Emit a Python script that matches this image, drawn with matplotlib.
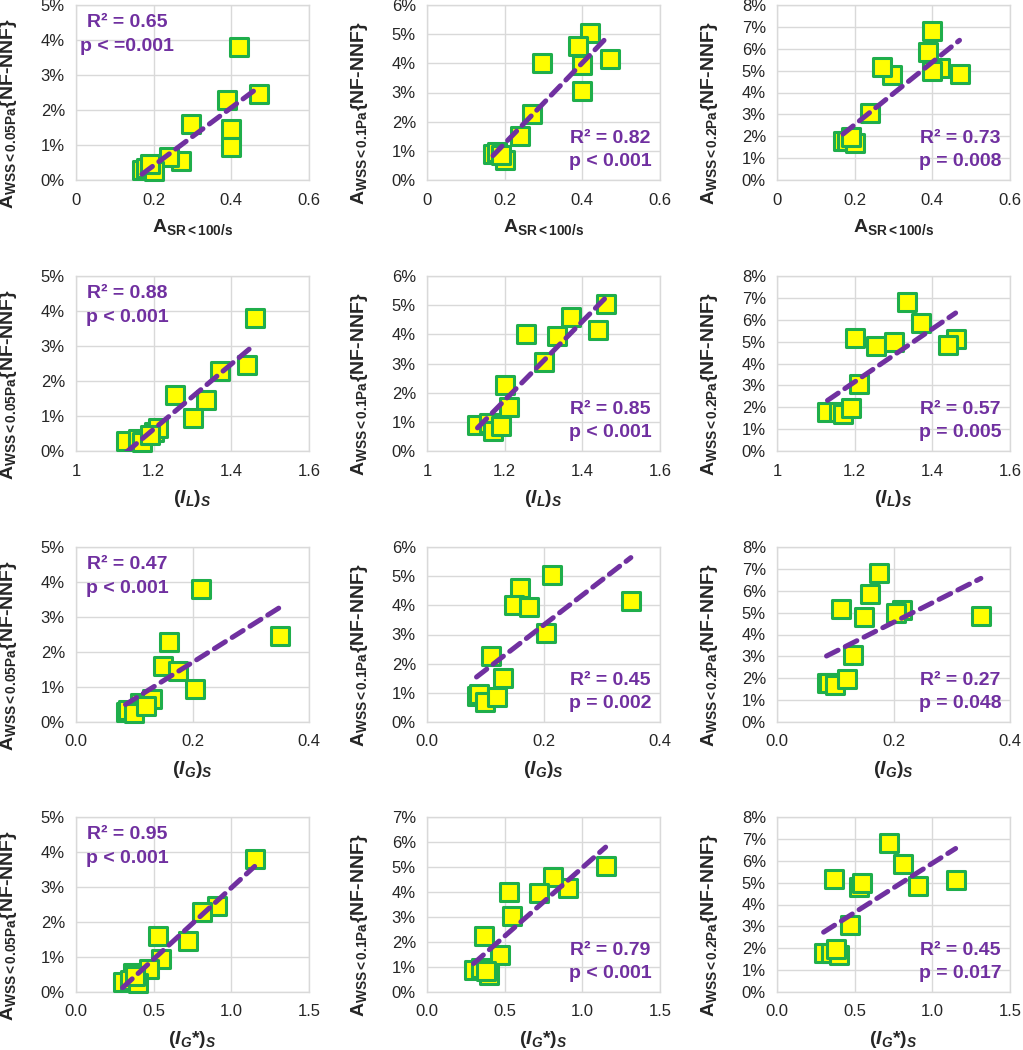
import numpy as np
import matplotlib
matplotlib.use('Agg')
import matplotlib.pyplot as plt
from matplotlib.ticker import FixedLocator, FixedFormatter

plt.rcParams['font.family'] = ['Liberation Sans', 'DejaVu Sans']
plt.rcParams['mathtext.fontset'] = 'custom'
plt.rcParams['mathtext.rm'] = 'Liberation Sans'
plt.rcParams['mathtext.bf'] = 'Liberation Sans:bold'
plt.rcParams['mathtext.it'] = 'Liberation Sans:italic'
plt.rcParams['mathtext.bfit'] = 'Liberation Sans:italic:bold'

# ---- data: one entry per subject (S1..S12) ----
a_sr      = [0.42, 0.47, 0.39, 0.295, 0.40, 0.40, 0.27, 0.24, 0.17, 0.18, 0.20, 0.19]
i_l       = [1.46, 1.44, 1.37, 1.255, 1.335, 1.30, 1.20, 1.21, 1.13, 1.16, 1.17, 1.19]
i_g       = [0.215, 0.35, 0.16, 0.15, 0.175, 0.205, 0.11, 0.13, 0.085, 0.09, 0.10, 0.12]
i_g_star  = [1.15, 0.91, 0.81, 0.53, 0.72, 0.55, 0.37, 0.47, 0.30, 0.35, 0.40, 0.38]
a_wss_005 = [3.8, 2.45, 2.3, 1.6, 1.45, 0.95, 0.55, 0.65, 0.30, 0.35, 0.25, 0.45]
a_wss_01  = [5.05, 4.15, 4.6, 4.0, 3.95, 3.05, 2.25, 1.5, 0.90, 0.95, 0.70, 0.85]
a_wss_02  = [5.1, 4.85, 5.85, 4.8, 6.8, 5.0, 5.15, 3.05, 1.80, 1.80, 1.70, 1.95]

x_vars = [a_sr, i_l, i_g, i_g_star]
y_vars = [a_wss_005, a_wss_01, a_wss_02]

x_labels = [r'A$_{\mathbf{SR{<}100/s}}$',
            r'($\mathbfit{I_L}$)$_{\mathbfit{S}}$',
            r'($\mathbfit{I_G}$)$_{\mathbfit{S}}$',
            r'($\mathbfit{I_G}$*)$_{\mathbfit{S}}$']
y_labels = [r'A$_{\mathbf{WSS{<}0.05Pa}}${NF-NNF}',
            r'A$_{\mathbf{WSS{<}0.1Pa}}${NF-NNF}',
            r'A$_{\mathbf{WSS{<}0.2Pa}}${NF-NNF}']

x_ticks = [[0, 0.2, 0.4, 0.6], [1, 1.2, 1.4, 1.6], [0.0, 0.2, 0.4], [0.0, 0.5, 1.0, 1.5]]
x_ticklabels = [['0', '0.2', '0.4', '0.6'], ['1', '1.2', '1.4', '1.6'],
                ['0.0', '0.2', '0.4'], ['0.0', '0.5', '1.0', '1.5']]
y_max = [[5, 6, 8], [5, 6, 8], [5, 6, 8], [5, 7, 8]]

r2_text = [['R² = 0.65', 'R² = 0.82', 'R² = 0.73'],
           ['R² = 0.88', 'R² = 0.85', 'R² = 0.57'],
           ['R² = 0.47', 'R² = 0.45', 'R² = 0.27'],
           ['R² = 0.95', 'R² = 0.79', 'R² = 0.45']]
p_text = [['p < =0.001', 'p < 0.001', 'p = 0.008'],
          ['p < 0.001', 'p < 0.001', 'p = 0.005'],
          ['p < 0.001', 'p = 0.002', 'p = 0.048'],
          ['p < 0.001', 'p < 0.001', 'p = 0.017']]

W, H = 1023, 1050
fig = plt.figure(figsize=(W / 100, H / 100), dpi=100)

col_left = [76, 427, 777]
row_top = [5, 276, 547, 817]
aw, ah = 233, 175

purple = '#7030A0'
green = '#1FAE4B'
yellow = '#FFFF00'
grid_c = '#D9D9D9'
txt_c = '#262626'

for r in range(4):
    for c in range(3):
        left = col_left[c] / W
        bottom = 1 - (row_top[r] + ah) / H
        ax = fig.add_axes([left, bottom, aw / W, ah / H])
        x = np.array(x_vars[r], dtype=float)
        y = np.array(y_vars[c], dtype=float)
        xt = x_ticks[r]
        ax.set_xlim(xt[0], xt[-1])
        ax.set_ylim(0, y_max[r][c])
        ax.xaxis.set_major_locator(FixedLocator(xt))
        ax.xaxis.set_major_formatter(FixedFormatter(x_ticklabels[r]))
        yt = list(range(0, y_max[r][c] + 1))
        ax.yaxis.set_major_locator(FixedLocator(yt))
        ax.yaxis.set_major_formatter(FixedFormatter([f'{v}%' for v in yt]))
        ax.grid(True, color=grid_c, lw=1.0, zorder=0)
        ax.set_axisbelow(True)
        for s in ax.spines.values():
            s.set_color(grid_c)
            s.set_linewidth(1.0)
        ax.tick_params(length=0, labelsize=12, labelcolor=txt_c, pad=8)
        ax.tick_params(axis='x', pad=9)

        # trendline (least squares)
        k, b0 = np.polyfit(x, y, 1)
        xs = np.array([x.min(), x.max()])
        ax.scatter(x, y, marker='s', s=150, facecolor=yellow, edgecolor=green,
                   linewidths=2.2, zorder=3, clip_on=False)
        ax.plot(xs, k * xs + b0, color=purple, lw=3.6, dashes=(2.6, 1.6),
                dash_capstyle='round', zorder=4)

        if c == 0:
            ax.text(0.22, 0.90, r2_text[r][c], transform=ax.transAxes, ha='center',
                    va='center', fontsize=14, fontweight='bold', color=purple, zorder=5)
            ax.text(0.22, 0.765, p_text[r][c], transform=ax.transAxes, ha='center',
                    va='center', fontsize=14, fontweight='bold', color=purple, zorder=5)
        else:
            ax.text(0.785, 0.238, r2_text[r][c], transform=ax.transAxes, ha='center',
                    va='center', fontsize=14, fontweight='bold', color=purple, zorder=5)
            ax.text(0.785, 0.103, p_text[r][c], transform=ax.transAxes, ha='center',
                    va='center', fontsize=14, fontweight='bold', color=purple, zorder=5)

        ax.set_xlabel(x_labels[r], fontsize=14, fontweight='bold', color=txt_c)
        ax.xaxis.set_label_coords(0.5, -0.21)
        ax.set_ylabel(y_labels[c], fontsize=14, fontweight='bold', color=txt_c)
        ax.yaxis.set_label_coords(-0.245, 0.38)

fig.savefig('out.png', dpi=100)
